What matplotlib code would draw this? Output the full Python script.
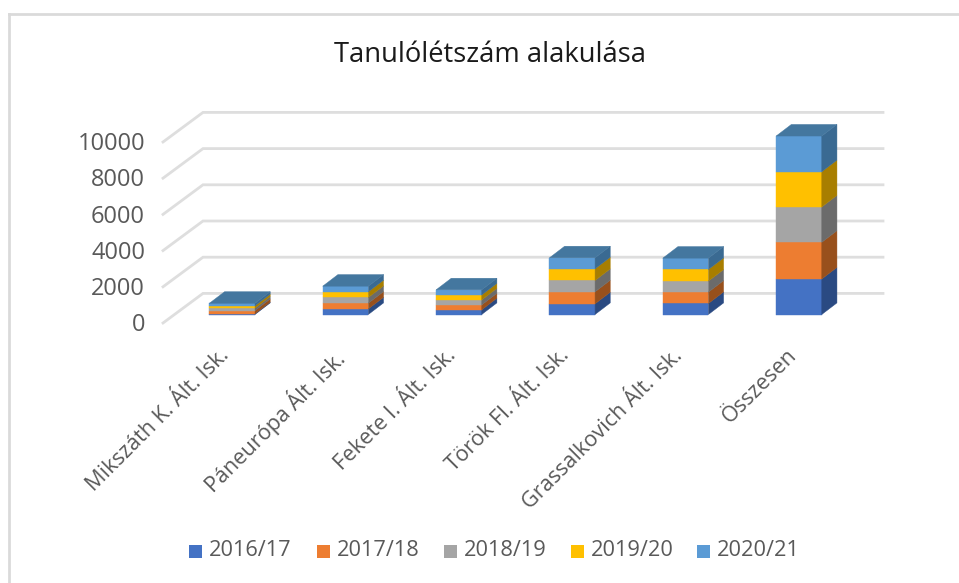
import matplotlib
matplotlib.use("Agg")
import matplotlib.pyplot as plt
from matplotlib.patches import Polygon, Rectangle
import numpy as np

plt.rcParams['font.family'] = ['Open Sans', 'DejaVu Sans']

categories = ["Mikszáth K. Ált. Isk.", "Páneurópa Ált. Isk.", "Fekete I. Ált. Isk.",
              "Török Fl. Ált. Isk.", "Grassalkovich Ált. Isk.", "Összesen"]
years = ["2016/17", "2017/18", "2018/19", "2019/20", "2020/21"]
v1617 = [40, 310, 260, 590, 608, 1961]
v1718 = [180, 315, 270, 663, 626, 2027]
v1819 = [130, 315, 275, 626, 608, 1950]
v1920 = [130, 315, 275, 645, 645, 1950]
v2021 = [140, 310, 283, 608, 626, 1972]
series = [v1617, v1718, v1819, v1920, v2021]
yticks = [0, 2000, 4000, 6000, 8000, 10000]

colors = ["#4472C4", "#ED7D31", "#A5A5A5", "#FFC000", "#5B9BD5"]
side = ["#2A4A82", "#98501C", "#6B6B6B", "#A87E00", "#3A6A92"]
top = "#44779F"

W, H = 959, 583
fig = plt.figure(figsize=(W/100, H/100), dpi=100, facecolor="white")
# axes in which 1 px = 2000/36.2 value units and 1 px = 1/113.35 category
px_y = 2000/36.2
px_x = 1/113.35
L, R, T, B = 60, 900, 90, 340
ax = fig.add_axes([L/W, 1-B/H, (R-L)/W, (B-T)/H])
x0 = (L-232.2)*px_x
ax.set_xlim(x0, x0+(R-L)*px_x)
ybase = 314.5
ax.set_ylim((ybase-B)*px_y, (ybase-T)*px_y)
ax.axis("off")

grid = "#DEDEDE"
back_dy = 21.1*px_y
front_dy = -8.5*px_y
xl, xb, xr = (163-232.2)*px_x, (203-232.2)*px_x, (883-232.2)*px_x
for t in yticks:
    ax.plot([xl, xb, xr], [t+front_dy, t+back_dy, t+back_dy], color=grid, lw=2,
            solid_joinstyle="miter", zorder=1)
    ax.text(xl-18*px_x, t+front_dy-2.3*px_y, str(t), ha="right", va="center", fontsize=17, color="#595959")

bw = 45.6*px_x
dx, dy = 15.2*px_x, 11.6*px_y
xs = np.arange(len(categories))
bottom = np.zeros(len(categories))
for vals, c, s in zip(series, colors, side):
    vals = np.array(vals, float)
    ax.bar(xs, vals, bw, bottom=bottom, color=c, zorder=3, edgecolor=c, linewidth=0.3)
    for x, b, v in zip(xs, bottom, vals):
        xe = x+bw/2
        ax.add_patch(Polygon([(xe, b), (xe+dx, b+dy), (xe+dx, b+v+dy), (xe, b+v)],
                             closed=True, facecolor=s, edgecolor=s, lw=0.3, zorder=3))
    bottom = bottom+vals
for x, t in zip(xs, bottom):
    ax.add_patch(Polygon([(x-bw/2, t), (x+bw/2, t), (x+bw/2+dx, t+dy), (x-bw/2+dx, t+dy)],
                         closed=True, facecolor=top, edgecolor=top, lw=0.3, zorder=3))

for x, c in zip(xs, categories):
    ax.annotate(c, xy=(x, 0), xytext=(-9.5, -22), textcoords="offset points",
                ha="right", va="top", rotation=45, rotation_mode="anchor",
                fontsize=15.6, color="#595959", annotation_clip=False)

fig.text(490/W, 1-55/H, "Tanulólétszám alakulása", ha="center", va="center", fontsize=19.7, color="#1a1a1a")

# legend
lx = [189, 317, 444, 571, 697]
for xp, c, lab in zip(lx, colors, years):
    fig.patches.append(Rectangle((xp/W, 1-558/H), 13/W, 13/H, transform=fig.transFigure, facecolor=c, edgecolor="none"))
    fig.text((xp+20)/W, 1-551/H, lab, ha="left", va="center", fontsize=15.7, color="#595959")

# chart frame (top and left only are in view)
for xs_, ys_ in [([9, 9], [583, 14.3]), ([9, 959], [14.3, 14.3])]:
    fig.add_artist(plt.Line2D([a/W for a in xs_], [1-b/H for b in ys_], color="#DADADA", lw=2))

fig.savefig("out.png", dpi=100)
